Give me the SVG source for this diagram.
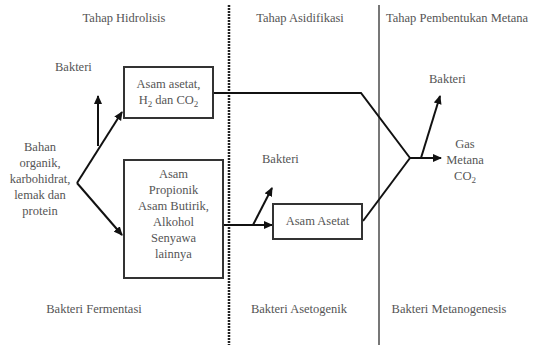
<svg xmlns="http://www.w3.org/2000/svg" width="536" height="347" viewBox="0 0 536 347">
<style>
text{font-family:"Liberation Serif","Times New Roman",serif;font-size:12.5px;fill:#555;}
.c{text-anchor:middle;}
.box{fill:#fff;stroke:#333;stroke-width:2;}
.ln{fill:none;stroke:#111;stroke-width:2;}
</style>
<defs>
<marker id="ah" markerWidth="9" markerHeight="9" refX="8" refY="4.5" orient="auto" markerUnits="userSpaceOnUse">
<path d="M0,0.5 L9,4.5 L0,8.5 Z" fill="#111"/>
</marker>
</defs>
<rect width="536" height="347" fill="#fff"/>
<g id="dividers">
<line x1="229" y1="5" x2="229" y2="345" stroke="#222" stroke-width="2.5" stroke-dasharray="2,1"/>
<line x1="379" y1="5" x2="379" y2="345" stroke="#777" stroke-width="2"/>
</g>
<g id="headers">
<text class="c" x="124" y="22">Tahap Hidrolisis</text>
<text class="c" x="300" y="22">Tahap Asidifikasi</text>
<text x="386" y="22">Tahap Pembentukan Metana</text>
</g>
<g id="connectors">
<line class="ln" x1="77" y1="183" x2="122" y2="112" marker-end="url(#ah)"/>
<line class="ln" x1="77" y1="183" x2="122" y2="235" marker-end="url(#ah)"/>
<line class="ln" x1="98" y1="146" x2="98" y2="96" marker-end="url(#ah)"/>
<line class="ln" x1="223" y1="225" x2="272" y2="225" marker-end="url(#ah)"/>
<line class="ln" x1="253" y1="225" x2="272" y2="188" marker-end="url(#ah)"/>
<polyline class="ln" points="213,93 361,93 410,158"/>
<polyline class="ln" points="363,221 410,158"/>
<line class="ln" x1="410" y1="158" x2="441" y2="158" marker-end="url(#ah)"/>
<line class="ln" x1="421" y1="158" x2="440" y2="96" marker-end="url(#ah)"/>
</g>
<g id="bahan">
<text class="c" x="40" y="151">Bahan</text>
<text class="c" x="40" y="167">organik,</text>
<text class="c" x="40" y="183">karbohidrat,</text>
<text class="c" x="40" y="199">lemak dan</text>
<text class="c" x="40" y="215">protein</text>
</g>
<g id="bakteri1"><text x="55" y="71">Bakteri</text></g>
<g id="box-asetat-h2">
<rect class="box" x="124" y="67" width="89" height="51"/>
<text class="c" x="168.5" y="88">Asam asetat,</text>
<text class="c" x="168.5" y="104">H<tspan font-size="9" dy="3">2</tspan><tspan dy="-3"> dan CO</tspan><tspan font-size="9" dy="3">2</tspan></text>
</g>
<g id="box-propionik">
<rect class="box" x="124" y="160" width="99" height="118"/>
<text class="c" x="173.5" y="178">Asam</text>
<text class="c" x="173.5" y="194">Propionik</text>
<text class="c" x="173.5" y="210">Asam Butirik,</text>
<text class="c" x="173.5" y="226">Alkohol</text>
<text class="c" x="173.5" y="242">Senyawa</text>
<text class="c" x="173.5" y="258">lainnya</text>
</g>
<g id="bakteri2"><text x="262" y="163">Bakteri</text></g>
<g id="box-asam-asetat">
<rect class="box" x="273" y="204" width="89" height="35"/>
<text class="c" x="317.5" y="225">Asam Asetat</text>
</g>
<g id="bakteri3"><text x="429" y="83">Bakteri</text></g>
<g id="gas">
<text class="c" x="465" y="148">Gas</text>
<text class="c" x="465" y="164">Metana</text>
<text class="c" x="465" y="180">CO<tspan font-size="9" dy="3">2</tspan></text>
</g>
<g id="footers">
<text class="c" x="94" y="313">Bakteri Fermentasi</text>
<text class="c" x="299" y="313">Bakteri Asetogenik</text>
<text class="c" x="449" y="313">Bakteri Metanogenesis</text>
</g>
</svg>
